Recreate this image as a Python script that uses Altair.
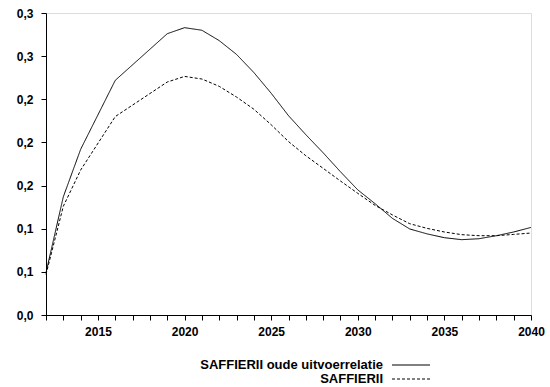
import altair as alt
import pandas as pd

# ---- data ----
years = [2012, 2013, 2014, 2016, 2019, 2020, 2021, 2022, 2023, 2024, 2025, 2026,
         2027, 2028, 2029, 2030, 2031, 2032, 2033, 2034, 2035, 2036, 2037, 2038,
         2039, 2040]
oude = [0.049, 0.137, 0.192, 0.272, 0.326, 0.333, 0.330, 0.318, 0.302, 0.281,
        0.257, 0.231, 0.209, 0.188, 0.166, 0.145, 0.129, 0.112, 0.0997, 0.094,
        0.0896, 0.0873, 0.0884, 0.0919, 0.0962, 0.1015]
saffier = [0.047, 0.126, 0.168, 0.230, 0.270, 0.2765, 0.2735, 0.265, 0.2526,
           0.2385, 0.2205, 0.201, 0.1846, 0.170, 0.1553, 0.141, 0.127, 0.116,
           0.1058, 0.1004, 0.0962, 0.0931, 0.0919, 0.0919, 0.0934, 0.095]
series_names = ["SAFFIERII oude uitvoerrelatie", "SAFFIERII"]

y_tick_values = [0.0, 0.05, 0.10, 0.15, 0.20, 0.25, 0.30, 0.35]
y_tick_labels = ["0,0", "0,1", "0,1", "0,2", "0,2", "0,2", "0,3", "0,3"]
x_tick_values = list(range(2012, 2041))
x_label_every = 5

# ---- build tables ----
df = pd.DataFrame(
    {"year": years * 2,
     "value": oude + saffier,
     "series": [series_names[0]] * len(years) + [series_names[1]] * len(years)}
)
legend_df = pd.DataFrame({"series": series_names, "idx": list(range(len(series_names)))})

FONT = "Liberation Sans"
W, H = 485, 302

y_label_expr = "[" + ",".join("'%s'" % s for s in y_tick_labels) + "][round(datum.value/0.05)]"
x_label_expr = "datum.value %% %d == 0 ? '' + datum.value : ''" % x_label_every

dash_scale = alt.Scale(domain=series_names, range=[[1, 0], [3, 2]])

lines = alt.Chart(df).mark_line(color="black", strokeWidth=1).encode(
    x=alt.X("year:Q",
            scale=alt.Scale(domain=[2012, 2040], nice=False, zero=False),
            axis=alt.Axis(values=x_tick_values, labelExpr=x_label_expr, title=None,
                          grid=False, tickSize=5, tickColor="black", domainColor="black",
                          labelFont=FONT, labelFontSize=12, labelFontWeight="bold",
                          labelColor="black", labelPadding=6, labelFlush=False,
                          labelOverlap=False)),
    y=alt.Y("value:Q",
            scale=alt.Scale(domain=[0, 0.35], nice=False),
            axis=alt.Axis(values=y_tick_values, labelExpr=y_label_expr, title=None,
                          grid=False, tickSize=5, tickColor="black", domainColor="black",
                          labelFont=FONT, labelFontSize=12, labelFontWeight="bold",
                          labelColor="black", labelPadding=8, labelOverlap=False)),
    strokeDash=alt.StrokeDash("series:N", scale=dash_scale, legend=None),
    order=alt.Order("year:Q"),
)

base_leg = alt.Chart(legend_df).transform_calculate(ly="352 + 14*datum.idx")

leg_text = base_leg.mark_text(align="right", baseline="middle", font=FONT,
                              fontSize=13, fontWeight="bold", color="black").encode(
    text="series:N",
    x=alt.value(337),
    y=alt.Y("ly:Q", scale=None, axis=None),
)

leg_line = base_leg.mark_rule(color="black", strokeWidth=1).encode(
    x=alt.value(346),
    x2=alt.value(384),
    y=alt.Y("ly:Q", scale=None, axis=None),
    strokeDash=alt.StrokeDash("series:N", scale=dash_scale, legend=None),
)

chart = alt.layer(lines, leg_text, leg_line).properties(
    width=W, height=H,
    autosize=alt.AutoSizeParams(type="none"),
    padding={"left": 46, "top": 13, "right": 19, "bottom": 72},
).configure_view(stroke=None).configure(background="white")

chart.save("out.html", embed_options={"renderer": "svg", "actions": False})
